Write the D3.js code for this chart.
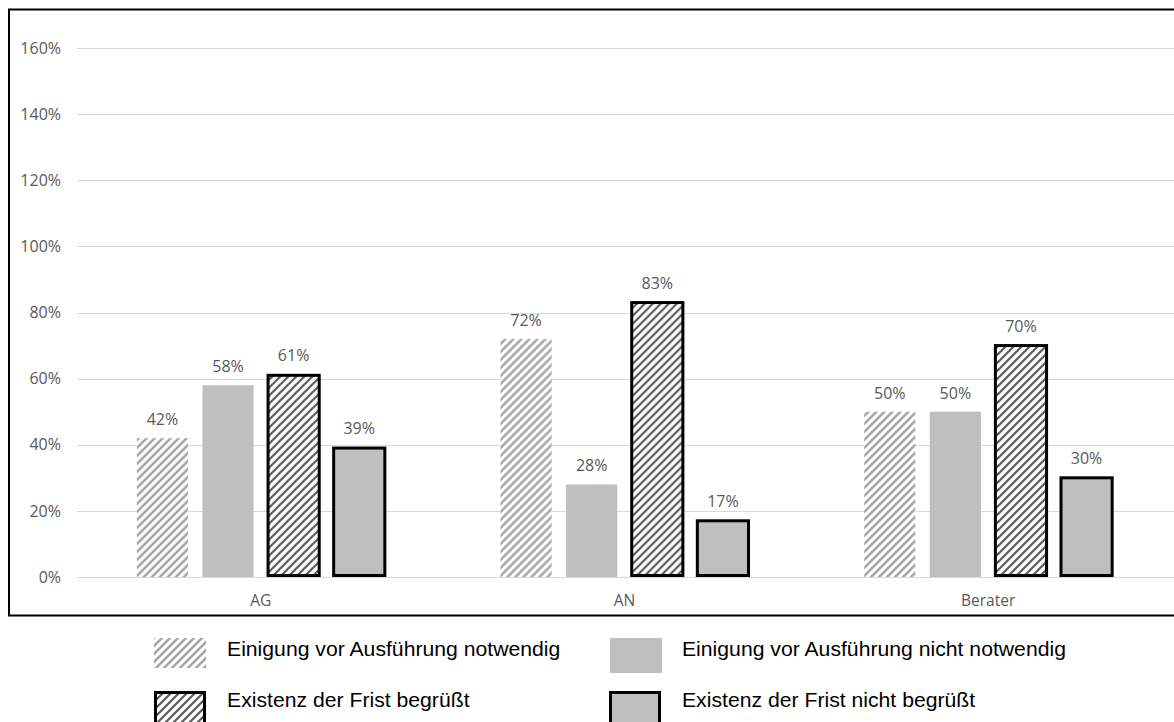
<!DOCTYPE html>
<html>
<head>
<meta charset="utf-8">
<script src="https://cdn.jsdelivr.net/npm/d3@7"></script>
<style>
  html, body { margin: 0; padding: 0; background: #fff; }
  svg { display: block; }
</style>
</head>
<body>
<svg id="chart" width="1174" height="722"></svg>
<script>
// Groups along the x axis
const categories = ["AG", "AN", "Berater"];
// Series shown in each group
const seriesNames = [
  "Einigung vor Ausführung notwendig",
  "Einigung vor Ausführung nicht notwendig",
  "Existenz der Frist begrüßt",
  "Existenz der Frist nicht begrüßt"
];
// Shares per group, in percent (one array per series)
const einigungNotwendig      = [42, 72, 50];
const einigungNichtNotwendig = [58, 28, 50];
const fristBegruesst         = [61, 83, 70];
const fristNichtBegruesst    = [39, 17, 30];
const yTicks = [0, 20, 40, 60, 80, 100, 120, 140, 160];

const seriesValues = [einigungNotwendig, einigungNichtNotwendig, fristBegruesst, fristNichtBegruesst];

// Visual style per series
const styles = [
  { fill: "url(#hatchLight)", stroke: "none", sw: 0 },
  { fill: "#bfbfbf", stroke: "none", sw: 0 },
  { fill: "url(#hatchDark)", stroke: "#000", sw: 3 },
  { fill: "#bfbfbf", stroke: "#000", sw: 3 }
];

const svg = d3.select("#chart");
const W = 1174, H = 722;
const labelFont = "'Open Sans', sans-serif";

// Diagonal hatch patterns
const defs = svg.append("defs");
function hatch(id, color, width) {
  const p = defs.append("pattern")
    .attr("id", id)
    .attr("patternUnits", "userSpaceOnUse")
    .attr("width", 8).attr("height", 8);
  p.append("rect").attr("width", 8).attr("height", 8).attr("fill", "#fff");
  p.append("path")
    .attr("d", "M-2,2 L2,-2 M0,8 L8,0 M6,10 L10,6")
    .attr("stroke", color)
    .attr("stroke-width", width);
}
hatch("hatchLight", "#a6a6a6", 2.6);
hatch("hatchDark", "#595959", 2.2);

// Outer frame
svg.append("rect")
  .attr("x", 9).attr("y", 9.5)
  .attr("width", W + 10).attr("height", 606)
  .attr("fill", "none").attr("stroke", "#000").attr("stroke-width", 2);

const x0 = d3.scaleBand().domain(categories).range([79, 1170]);
const groupWidth = 248;
const x1 = d3.scaleBand().domain(d3.range(4))
  .range([0, groupWidth]).paddingInner(0.22).paddingOuter(0);
const y = d3.scaleLinear().domain([0, 160]).range([577, 48]);

// Gridlines
svg.append("g").selectAll("line").data(yTicks).join("line")
  .attr("x1", 77).attr("x2", W)
  .attr("y1", d => Math.round(y(d)) + 0.5)
  .attr("y2", d => Math.round(y(d)) + 0.5)
  .attr("stroke", "#d9d9d9").attr("stroke-width", 1);

// Y axis labels
const yAxis = d3.axisLeft(y).tickValues(yTicks).tickFormat(d => d + "%").tickSize(0).tickPadding(0);
const yg = svg.append("g").attr("transform", "translate(61,0)").call(yAxis);
yg.select(".domain").remove();
yg.selectAll("text")
  .attr("font-family", labelFont)
  .attr("font-size", 16).attr("fill", "#595959");

// X axis labels
const xAxis = d3.axisBottom(x0).tickSize(0).tickPadding(0);
const xg = svg.append("g").attr("transform", "translate(0,595)").call(xAxis);
xg.select(".domain").remove();
xg.selectAll("text")
  .attr("font-family", labelFont)
  .attr("font-size", 15.5).attr("fill", "#595959");

// Bars with value labels
const groupOffset = (x0.bandwidth() - groupWidth) / 2;
const groups = svg.append("g").selectAll("g").data(categories).join("g")
  .attr("transform", d => `translate(${x0(d) + groupOffset},0)`);

groups.each(function (cat, ci) {
  const g = d3.select(this);
  seriesValues.forEach((vals, si) => {
    const v = vals[ci];
    const st = styles[si];
    const bx = x1(si), bw = x1.bandwidth();
    const top = y(v), h = y(0) - y(v);
    g.append("rect")
      .attr("x", bx).attr("y", top)
      .attr("width", bw).attr("height", st.sw > 0 ? h - st.sw / 2 : h)
      .attr("fill", st.fill)
      .attr("stroke", st.stroke)
      .attr("stroke-width", st.sw);
    g.append("text")
      .attr("x", bx + bw / 2).attr("y", top - (st.sw > 0 ? 14 : 13))
      .attr("text-anchor", "middle")
      .attr("font-family", labelFont)
      .attr("font-size", 16).attr("fill", "#595959")
      .text(v + "%");
  });
});

// Legend
const legendPos = [
  { sx: 154, sy: 638, tx: 227, ty: 656 },
  { sx: 610, sy: 638, tx: 682, ty: 656 },
  { sx: 154, sy: 691, tx: 227, ty: 707 },
  { sx: 609, sy: 691, tx: 682, ty: 707 }
];
const legend = svg.append("g");
seriesNames.forEach((name, i) => {
  const p = legendPos[i], st = styles[i];
  if (st.sw > 0) {
    legend.append("rect")
      .attr("x", p.sx + 1.5).attr("y", p.sy + 1.5)
      .attr("width", 49).attr("height", 36)
      .attr("fill", st.fill).attr("stroke", st.stroke).attr("stroke-width", st.sw);
  } else {
    legend.append("rect")
      .attr("x", p.sx).attr("y", p.sy)
      .attr("width", 52).attr("height", i === 1 ? 35 : 30)
      .attr("fill", st.fill);
  }
  legend.append("text")
    .attr("x", p.tx).attr("y", p.ty)
    .attr("font-family", "'Liberation Sans', Arial, sans-serif")
    .attr("font-size", 20).attr("fill", "#000")
    .attr("transform", `translate(${p.tx},0) scale(1.06,1) translate(${-p.tx},0)`)
    .text(name);
});
</script>
</body>
</html>
